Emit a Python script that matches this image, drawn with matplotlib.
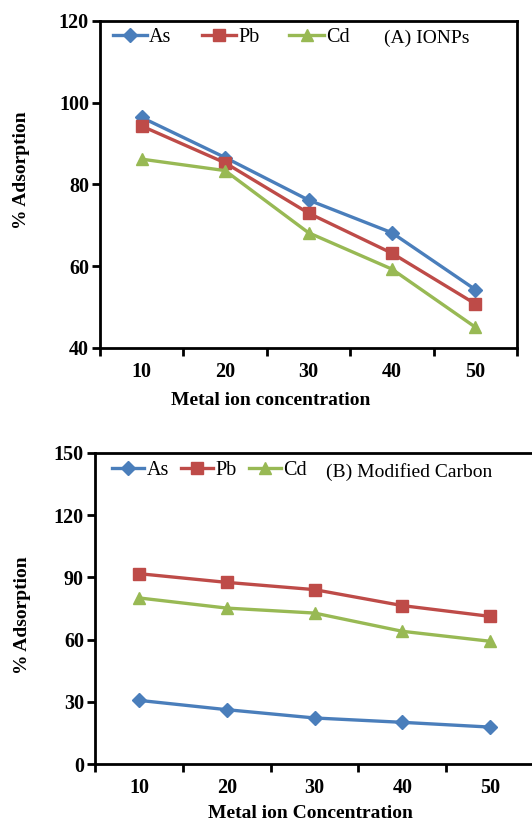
import numpy as np
import matplotlib
matplotlib.use("Agg")
import matplotlib.pyplot as plt

# ===============================
# data
# ===============================
conc = ["10", "20", "30", "40", "50"]
series = ["As", "Pb", "Cd"]

ionp_as = [96.4, 86.6, 76.2, 68.2, 54.3]
ionp_pb = [94.3, 85.3, 73.0, 63.2, 50.8]
ionp_cd = [86.2, 83.4, 68.2, 59.3, 45.1]

carbon_as = [30.7, 26.2, 22.2, 20.1, 17.8]
carbon_pb = [91.8, 87.6, 84.1, 76.4, 71.2]
carbon_cd = [80.1, 75.2, 72.8, 64.0, 59.2]

COLORS = ["#4A7EBB", "#BE4B48", "#98B954"]
MARKERS = ["D", "s", "^"]
MSIZES = [7.5, 9, 9]

plt.rcParams["font.family"] = ["Liberation Serif", "DejaVu Serif"]

W, H = 532, 823
fig = plt.figure(figsize=(W / 100, H / 100), dpi=100)


def px_axes(l, r, t, b):
    return fig.add_axes([l / W, (H - b) / H, (r - l) / W, (b - t) / H])


def draw_panel(ax, data, ylim, yticks, leg_x, leg_y, colsp, hlen, tag, tag_x, tag_y):
    x = np.arange(len(conc))
    for vals, name, c, m, ms in zip(data, series, COLORS, MARKERS, MSIZES):
        ax.plot(x, vals, color=c, lw=2.4, marker=m, ms=ms, label=name,
                markeredgecolor=c)

    ax.set_xlim(-0.5, len(conc) - 0.5)
    ax.set_ylim(*ylim)
    ax.set_yticks(yticks)
    ax.set_yticklabels([str(v) for v in yticks], fontsize=14.5, fontweight="bold")
    # category boundaries get the tick marks, labels sit in the middle
    ax.set_xticks(np.arange(-0.5, len(conc), 1))
    ax.set_xticklabels([])
    ax.set_xticks(x, minor=True)
    ax.set_xticklabels(conc, minor=True, fontsize=14.5, fontweight="bold")
    ax.tick_params(axis="x", which="major", direction="out", length=6, width=2)
    ax.tick_params(axis="x", which="minor", length=0, pad=10)
    ax.tick_params(axis="y", direction="out", length=6, width=2, pad=2)
    for s in ax.spines.values():
        s.set_linewidth(2)
        s.set_color("black")

    ax.legend(loc="center left", bbox_to_anchor=(leg_x, leg_y), ncol=3,
              frameon=False, borderpad=0, borderaxespad=0, handlelength=hlen,
              handletextpad=0.1, columnspacing=colsp, numpoints=1,
              prop={"family": "Liberation Serif", "size": 14.5})
    ax.text(tag_x, tag_y, tag, transform=ax.transAxes, fontsize=14,
            va="center", ha="left")


# ===============================
# (A) IONPs
# ===============================
ax1 = px_axes(100, 517, 21, 348)
draw_panel(ax1, [ionp_as, ionp_pb, ionp_cd], (40, 120), [40, 60, 80, 100, 120],
           0.031, 0.951, 1.5, 1.7, "(A) IONPs", 0.682, 0.948)
fig.text(271 / W, 1 - 400 / H, "Metal ion concentration", fontsize=14,
         fontweight="bold", ha="center", va="center")
fig.text(22 / W, 1 - 170 / H, "% Adsorption", fontsize=14, fontweight="bold",
         ha="center", va="center", rotation=90)

# ===============================
# (B) Modified Carbon
# ===============================
ax2 = px_axes(95, 534, 453, 764)
draw_panel(ax2, [carbon_as, carbon_pb, carbon_cd], (0, 150), [0, 30, 60, 90, 120, 150],
           0.039, 0.945, 0.62, 1.6, "(B) Modified Carbon", 0.526, 0.938)
fig.text(310 / W, 1 - 814 / H, "Metal ion Concentration", fontsize=14,
         fontweight="bold", ha="center", va="center")
fig.text(23 / W, 1 - 615 / H, "% Adsorption", fontsize=14, fontweight="bold",
         ha="center", va="center", rotation=90)

fig.savefig("out.png", dpi=100)
